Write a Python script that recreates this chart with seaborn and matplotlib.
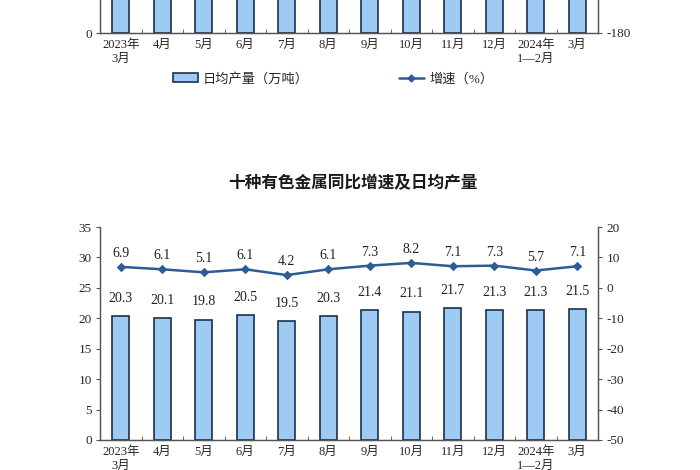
import numpy as np
import pandas as pd
import seaborn as sns
import matplotlib.pyplot as plt
from matplotlib.patches import Patch
from matplotlib.lines import Line2D

sns.set_style('white')
plt.rcParams['font.family'] = ['Liberation Serif', 'Noto Sans CJK SC', 'DejaVu Sans']
plt.rcParams['axes.unicode_minus'] = False

# x categories shared by both panels
months = ['2023年\n3月', '4月', '5月', '6月', '7月', '8月', '9月', '10月',
          '11月', '12月', '2024年\n1—2月', '3月']

# upper panel (cut off by the page edge, only the bar bases are visible)
upper_output = [650, 640, 620, 580, 500, 490, 530, 580, 620, 550, 430, 470]

# lower panel: ten non-ferrous metals
metal_output = [20.3, 20.1, 19.8, 20.5, 19.5, 20.3, 21.4, 21.1, 21.7, 21.3, 21.3, 21.5]
metal_growth = [6.9, 6.1, 5.1, 6.1, 4.2, 6.1, 7.3, 8.2, 7.1, 7.3, 5.7, 7.1]

bar_face = '#9ECBF4'
bar_edge = '#1C304D'
line_col = '#2D5C96'
axis_col = '#555555'
serif_cjk = ['Liberation Serif', 'Noto Sans CJK SC']

df = pd.DataFrame({'month': months, 'upper': upper_output,
                   'output': metal_output, 'growth': metal_growth})

fig = plt.figure(figsize=(7, 4.7), dpi=100)
W, H = 700, 470
left, right = 100 / W, 598 / W


def style_axes(ax, ax2):
    for a in (ax, ax2):
        a.spines['top'].set_visible(False)
        for s in ('left', 'right', 'bottom'):
            a.spines[s].set_color(axis_col)
            a.spines[s].set_linewidth(0.9)
    ax.set_xlabel('')
    ax.set_ylabel('')
    ax2.set_xlabel('')
    ax2.set_ylabel('')
    ax.tick_params(axis='y', direction='out', length=3, color=axis_col,
                   labelsize=9.5, pad=3)
    ax2.tick_params(axis='y', direction='out', length=3, color=axis_col,
                    labelsize=9.5, pad=3)
    ax.tick_params(axis='x', which='major', length=0, labelsize=9, pad=4)
    ax.set_xticks(np.arange(-0.5, len(months), 1), minor=True)
    ax.tick_params(axis='x', which='minor', direction='in', length=3,
                   color=axis_col, bottom=True)
    ax.set_xlim(-0.5, len(months) - 0.5)
    for lab in ax.get_xticklabels():
        lab.set_multialignment('center')
        lab.set_linespacing(1.3)


############ UPPER PANEL (cropped) ############
ax_top = fig.add_axes([left, 1 - 33 / H, right - left, 0.45])
sns.barplot(data=df, x='month', y='upper', ax=ax_top, color=bar_face,
            saturation=1, width=0.42, edgecolor=bar_edge, linewidth=1.2)
ax_top.set_ylim(0, 800)
ax_top.set_yticks([0])
ax_top2 = ax_top.twinx()
ax_top2.set_ylim(-180, 60)
ax_top2.set_yticks([-180])
style_axes(ax_top, ax_top2)

# legend of the upper panel
handles = [Patch(facecolor=bar_face, edgecolor=bar_edge, linewidth=1.2),
           Line2D([], [], color=line_col, lw=1.8, marker='D', markersize=3.5)]
fig.legend(handles, ['日均产量（万吨）', '增速（%）'], loc='center',
           bbox_to_anchor=(333 / W, 1 - 79 / H), ncol=2, frameon=False,
           columnspacing=6.8, handlelength=1.9, handleheight=0.7,
           handletextpad=0.4, prop={'family': serif_cjk, 'size': 9.5})

############ LOWER PANEL ############
ax = fig.add_axes([left, 1 - 440 / H, right - left, (440 - 227) / H])
sns.barplot(data=df, x='month', y='output', ax=ax, color=bar_face,
            saturation=1, width=0.42, edgecolor=bar_edge, linewidth=1.2)
ax.set_ylim(0, 35)
ax.set_yticks(np.arange(0, 36, 5))

ax2 = ax.twinx()
sns.pointplot(data=df, x='month', y='growth', ax=ax2, color=line_col,
              marker='D', markersize=3.5, linewidth=1.8)
ax2.set_ylim(-50, 20)
ax2.set_yticks(np.arange(-50, 21, 10))
style_axes(ax, ax2)

for i, (v, g) in enumerate(zip(metal_output, metal_growth)):
    ax.annotate(f'{v:.1f}', (i, v), xytext=(0, 8), textcoords='offset points',
                ha='center', va='bottom', fontsize=10, color='#222222')
    ax2.annotate(f'{g:.1f}', (i, g), xytext=(0, 5), textcoords='offset points',
                 ha='center', va='bottom', fontsize=10, color='#222222')

fig.text(353 / W, 1 - 183 / H, '十种有色金属同比增速及日均产量', ha='center',
         va='center', fontsize=12, fontweight='bold',
         family=['Noto Sans CJK SC', 'DejaVu Sans'], color='#1a1a1a')

fig.savefig('out.png', dpi=100)
